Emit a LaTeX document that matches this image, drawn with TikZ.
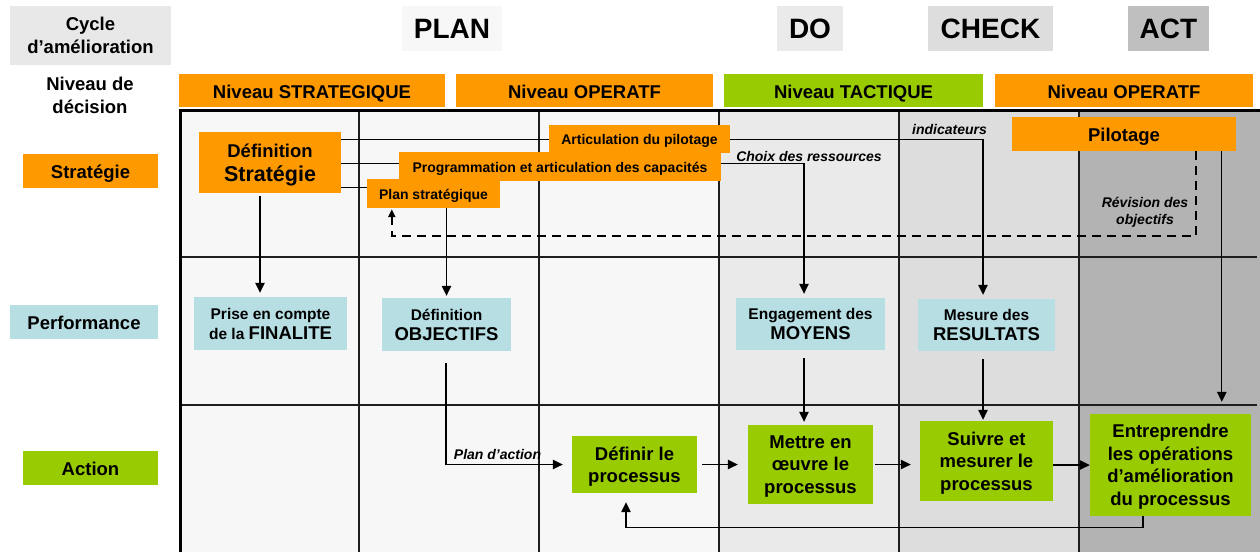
\documentclass[tikz,border=0pt]{standalone}
\usepackage{fontspec}
\setmainfont{Liberation Sans}
\usetikzlibrary{arrows.meta,calc}
\definecolor{orng}{HTML}{FF9900}
\definecolor{grn}{HTML}{99CC00}
\definecolor{lblue}{HTML}{B7DEE3}
\definecolor{gcyc}{HTML}{E8E8E8}
\definecolor{gA}{HTML}{F7F7F7}
\definecolor{gB}{HTML}{EAEAEA}
\definecolor{gC}{HTML}{DDDDDD}
\definecolor{gD}{HTML}{B3B3B3}
\definecolor{gact}{HTML}{BFBFBF}
\definecolor{gridc}{HTML}{1E1E1E}
\newcommand{\fsz}[2]{\fontsize{#1}{#2}\selectfont}
\begin{document}
\begin{tikzpicture}[x=1pt,y=-1pt,
  bx/.style={inner sep=0pt,align=center},
  oneb/.style={text height=15.7pt,text depth=0pt},
  onem/.style={text height=11.9pt,text depth=0pt},
  multi/.style={text depth=-1pt},
  big/.style={font=\bfseries\fsz{18.5}{22.5}},
  mid/.style={font=\bfseries\fsz{14}{17}},
  sml/.style={font=\bfseries\fsz{15.5}{19}},
  lab/.style={font=\bfseries\itshape\fsz{14}{17}},
  ttl/.style={font=\bfseries\fsz{28}{32}},
  obox/.style={bx,fill=orng},
  gbox/.style={bx,fill=grn},
  bbox/.style={bx,fill=lblue},
  gline/.style={draw=gridc,line width=1.5pt},
  thick border/.style={draw=black,line width=3.5pt},
  conn/.style={draw=black,line width=1.3pt},
  arr/.style={conn,-{Triangle[length=10pt,width=9.5pt]}},
  darr/.style={draw=black,line width=2pt,dash pattern=on 9pt off 6pt,-{Triangle[length=8pt,width=7pt]}}
]
\useasboundingbox (0,0) rectangle (1260,552);
\fill[white] (0,0) rectangle (1260,552);

% column backgrounds
\fill[gA] (179,110) rectangle (719,552);
\fill[gB] (719,110) rectangle (899,552);
\fill[gC] (899,110) rectangle (1079,552);
\fill[gD] (1079,110) rectangle (1260,552);

% grid lines
\foreach \xx in {359,539,719,899,1079} \draw[gline] (\xx,110) -- (\xx,552);
\foreach \yy in {257,405} \draw[gline] (179,\yy) -- (1257,\yy);
\draw[thick border] (180.5,552) -- (180.5,110.5) -- (1260,110.5);

% header
\node[bx,big,fill=gcyc,minimum width=161,minimum height=59] (cycle) at (90.5,35.5) {Cycle\\d’amélioration};
\node[bx,ttl,fill=gA,minimum width=100,minimum height=45] (plan) at (452,28.5) {PLAN};
\node[bx,ttl,fill=gB,minimum width=66,minimum height=45] (do) at (810,28.5) {DO};
\node[bx,ttl,fill=gC,minimum width=125,minimum height=45] (check) at (990.5,28.5) {CHECK};
\node[bx,ttl,fill=gact,minimum width=81,minimum height=45] (act) at (1168.5,28.5) {ACT};

\node[bx,big] (nivdec) at (90,95.5) {Niveau de\\décision};
\node[obox,big,oneb,minimum width=266,minimum height=33] (nstrat) at (312,90.5) {Niveau STRATEGIQUE};
\node[obox,big,oneb,minimum width=257,minimum height=33] (nop1) at (584.5,90.5) {Niveau OPERATF};
\node[gbox,big,oneb,minimum width=259,minimum height=33] (ntac) at (853.5,90.5) {Niveau TACTIQUE};
\node[obox,big,oneb,minimum width=258,minimum height=33] (nop2) at (1124,90.5) {Niveau OPERATF};

% row labels
\node[obox,big,oneb,minimum width=135,minimum height=34] (stratlab) at (90.5,171) {Stratégie};
\node[bbox,big,oneb,minimum width=148,minimum height=34] (perflab) at (84,322) {Performance};
\node[gbox,big,oneb,minimum width=135,minimum height=34] (actlab) at (90.5,468) {Action};

% strategy row nodes
\node[obox,big,text depth=0pt,minimum width=142,minimum height=61] (defstrat) at (270,162.5) {Définition\\[1pt]{\fsz{21.5}{24}Stratégie}};
\coordinate (l1) at ($(defstrat.north east)+(0,8)$);
\coordinate (l2) at ($(defstrat.north east)+(0,32)$);
\coordinate (l3) at ($(defstrat.north east)+(0,56)$);

% performance row nodes
\node[bbox,sml,minimum width=153,minimum height=53] (prise) at (270.5,323.5) {Prise en compte\\[1pt]de la {\fsz{18.5}{21}FINALITE}};
\node[bbox,sml,minimum width=129,minimum height=53] (objectifs) at (446.5,324.5) {Définition\\[1pt]{\fsz{18.5}{21}OBJECTIFS}};
\node[bbox,sml,minimum width=149,minimum height=52] (engagement) at (810.5,324) {Engagement des\\[1pt]{\fsz{18.5}{21}MOYENS}};
\node[bbox,sml,minimum width=137,minimum height=52] (mesure) at (986.5,325) {Mesure des\\[1pt]{\fsz{18.5}{21}RESULTATS}};

% lines from strategy (behind labels)
\draw[arr,shorten >=4pt] (l1) -| ($(mesure.north)+(-3.5,0)$);
\draw[arr,shorten >=4pt] (l2) -| ($(engagement.north)+(-6.5,0)$);

\node[obox,mid,onem,minimum width=181,minimum height=28] (artic) at (639.5,139) {Articulation du pilotage};
\node[obox,mid,onem,minimum width=322,minimum height=29] (prog) at (560,166.5) {Programmation et articulation des capacités};
\node[obox,mid,onem,minimum width=133,minimum height=29] (planstrat) at (433.5,193.5) {Plan stratégique};
\draw[conn] (l3) -- (l3 -| planstrat.west);
\node[obox,big,oneb,minimum width=224,minimum height=34] (pilot) at (1124,134) {Pilotage};

% action row nodes
\node[gbox,big,multi,minimum width=125,minimum height=57] (definir) at (634.5,464.5) {Définir le\\processus};
\node[gbox,big,multi,minimum width=125,minimum height=79] (mettre) at (810.5,464.5) {Mettre en\\œuvre le\\processus};
\node[gbox,big,multi,minimum width=133,minimum height=80] (suivre) at (986.5,461) {Suivre et\\mesurer le\\processus};
\node[gbox,big,multi,minimum width=161,minimum height=102] (entre) at (1170.5,465) {Entreprendre\\les opérations\\d’amélioration\\du processus};

% labels
\node[lab] (choix) at (809,156) {Choix des ressources};
\node[lab] (indic) at (949.5,129) {indicateurs};
\node[lab,align=center] (revis) at (1145,212) {Révision des\\objectifs};
\node[lab] (plact) at (497.5,454) {Plan d’action};

% connectors
\draw[arr,shorten <=3pt,shorten >=4pt] ($(defstrat.south)+(-10,0)$) -- ($(prise.north)+(-10.5,0)$);
\draw[arr,shorten >=2pt] (objectifs.north |- planstrat.south) -- (objectifs.north);
\coordinate (pd) at ($(pilot.south west)+(184,0)$);
\coordinate (pv) at ($(pilot.south west)+(210,0)$);
\draw[darr] (pd) |- ($(planstrat.south west)+(25,28)$) -- ($(planstrat.south west)+(25,1)$);
\draw[arr,shorten >=12pt] (pv) -- (pv |- entre.north);
\draw[arr,shorten <=12pt,shorten >=9pt] ($(objectifs.south)+(-0.5,0)$) |- (definir.west);
\draw[arr,shorten <=8pt,shorten >=3pt] ($(engagement.south)+(-6.5,0)$) -- ($(mettre.north)+(-6.5,0)$);
\draw[arr,shorten <=8pt,shorten >=1pt] ($(mesure.south)+(-3.5,0)$) -- ($(suivre.north)+(-3.5,0)$);
\draw[arr,shorten <=5pt,shorten >=10pt] (definir.east) -- (mettre.west);
\draw[arr,shorten <=2pt,shorten >=9pt] (mettre.east) -- (mettre.east -| suivre.west);
\draw[arr,shorten >=0pt] (suivre.east |- entre.west) -- (entre.west);
\draw[arr,shorten >=9pt] ($(entre.south)+(-27.5,0)$) -- ++(0,11) -| ($(definir.south)+(-8.5,0)$);
\end{tikzpicture}
\end{document}
